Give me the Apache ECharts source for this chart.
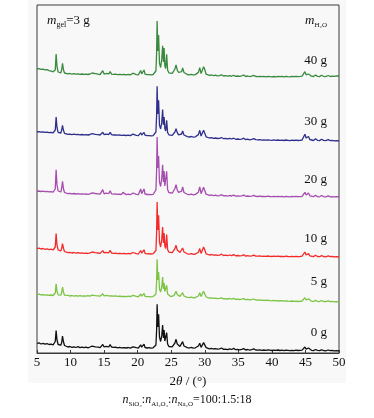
<!DOCTYPE html>
<html>
<head>
<meta charset="utf-8">
<script src="https://cdn.jsdelivr.net/npm/echarts@6/dist/echarts.min.js"></script>
<style>
  html, body { margin: 0; padding: 0; background: #fff; }
  #chart { width: 374px; height: 418px; }
</style>
</head>
<body>
<div id="chart"></div>
<script>
// 2theta sample positions (deg), shared by all patterns
var twoTheta = [
  5.0, 5.3, 5.6, 5.9, 6.2, 6.5, 6.8, 7.1, 7.4, 7.6,
  7.72, 7.85, 7.98, 8.15, 8.35, 8.55, 8.68, 8.8, 8.95, 9.1,
  9.3, 9.6, 9.9, 10.2, 10.5, 10.8, 11.1, 11.4, 11.7, 12.0,
  12.3, 12.6, 12.9, 13.2, 13.45, 13.7, 13.9, 14.1, 14.4, 14.6,
  14.8, 15.0, 15.3, 15.5, 15.7, 15.9, 16.1, 16.4, 16.7, 17.0,
  17.3, 17.6, 17.8, 18.0, 18.3, 18.6, 18.9, 19.1, 19.3, 19.5,
  19.8, 20.1, 20.3, 20.45, 20.6, 20.8, 20.95, 21.1, 21.4, 21.7,
  22.0, 22.3, 22.55, 22.72, 22.82, 22.9, 23.0, 23.12, 23.25, 23.42,
  23.58, 23.72, 23.84, 23.94, 24.05, 24.18, 24.32, 24.46, 24.65, 24.9,
  25.15, 25.4, 25.55, 25.72, 25.9, 26.1, 26.3, 26.55, 26.7, 26.9,
  27.1, 27.4, 27.7, 28.0, 28.3, 28.6, 28.85, 29.05, 29.25, 29.45,
  29.62, 29.82, 29.98, 30.2, 30.45, 30.7, 31.0, 31.3, 31.6, 31.9,
  32.2, 32.5, 32.8, 33.1, 33.4, 33.7, 34.0, 34.3, 34.6, 34.9,
  35.2, 35.5, 35.8, 36.1, 36.4, 36.7, 37.0, 37.3, 37.6, 37.9,
  38.2, 38.5, 38.8, 39.1, 39.4, 39.7, 40.0, 40.3, 40.6, 40.9,
  41.2, 41.5, 41.8, 42.1, 42.4, 42.7, 43.0, 43.3, 43.6, 43.9,
  44.2, 44.5, 44.75, 44.92, 45.1, 45.28, 45.45, 45.65, 45.9, 46.2,
  46.5, 46.8, 47.1, 47.4, 47.7, 48.0, 48.4, 48.7, 49.0, 49.3,
  49.6, 50.0
];

// intensities (a.u.), relative to its own high-angle baseline
var int0g = [
  7.5, 8.2, 7.0, 7.6, 6.8, 7.3, 6.5, 6.9, 6.2, 6.6,
  9.5, 20.4, 11.0, 6.5, 5.2, 5.8, 8.5, 15.0, 9.0, 5.5,
  4.6, 4.0, 4.5, 3.6, 4.2, 3.5, 4.3, 3.4, 3.9, 3.3,
  3.8, 3.2, 4.0, 4.9, 3.5, 4.1, 5.8, 3.9, 3.4, 4.2,
  6.5, 4.0, 4.6, 5.5, 4.2, 6.3, 4.0, 3.6, 3.9, 3.2,
  3.6, 3.1, 4.8, 3.3, 3.0, 3.5, 2.9, 3.4, 4.2, 3.0,
  3.3, 2.8, 3.6, 6.2, 3.8, 4.0, 6.8, 3.5, 3.0, 3.3,
  2.9, 3.2, 3.6, 6.0, 20.0, 46.7, 24.0, 36.7, 14.0, 9.5,
  15.0, 26.0, 13.0, 21.0, 10.0, 8.0, 18.4, 7.0, 4.5, 3.8,
  4.2, 5.5, 8.0, 11.7, 7.0, 5.0, 4.6, 6.2, 9.4, 5.0,
  3.9, 3.3, 3.0, 3.6, 2.8, 3.2, 4.0, 5.0, 7.7, 3.6,
  5.0, 8.4, 7.0, 3.4, 2.6, 2.2, 2.7, 2.0, 2.4, 1.8,
  2.1, 3.0, 1.6, 1.9, 1.4, 2.2, 1.5, 2.6, 1.3, 1.7,
  1.2, 1.6, 2.4, 1.0, 1.5, 0.9, 1.3, 2.1, 1.0, 0.8,
  1.2, 0.7, 1.0, 0.6, 1.1, 0.8, 0.5, 0.9, 0.6, 1.0,
  0.5, 0.8, 0.4, 0.9, 0.6, 0.3, 0.7, 0.4, 0.8, 0.5,
  0.6, 0.9, 1.3, 4.0, 1.8, 1.6, 3.0, 1.1, 0.7, 0.4,
  1.5, 0.6, 0.3, 1.2, 0.5, 0.2, 1.0, 0.3, 0.5, 0.1,
  0.3, 0.0
];
var int5g = [
  7.3, 7.8, 7.0, 7.4, 6.9, 7.2, 6.6, 7.0, 6.5, 6.9,
  9.0, 18.3, 10.5, 7.2, 6.4, 6.8, 9.5, 15.0, 9.8, 6.8,
  6.2, 6.6, 6.0, 6.5, 5.9, 6.3, 5.8, 6.4, 5.9, 6.1,
  5.8, 6.3, 5.9, 6.8, 6.0, 6.4, 7.8, 6.1, 5.8, 6.2,
  8.2, 6.0, 6.6, 7.5, 6.2, 8.0, 6.0, 5.8, 6.1, 5.6,
  5.9, 5.5, 7.0, 5.7, 5.4, 5.8, 5.3, 5.7, 6.6, 5.5,
  5.6, 5.2, 5.8, 8.0, 5.9, 6.1, 8.6, 5.7, 5.3, 5.4,
  5.1, 5.4, 5.7, 8.0, 20.0, 42.7, 22.0, 30.0, 13.0, 10.0,
  15.0, 25.0, 13.0, 19.0, 10.5, 9.0, 16.7, 8.0, 6.5, 5.4,
  5.8, 6.4, 8.2, 10.7, 7.5, 6.0, 5.6, 6.8, 9.3, 6.0,
  5.0, 4.6, 4.3, 4.8, 4.1, 4.5, 5.2, 6.0, 9.3, 5.5,
  6.5, 10.7, 8.8, 5.0, 4.2, 3.8, 4.1, 3.6, 3.9, 3.4,
  3.6, 4.2, 3.2, 3.4, 3.0, 3.5, 2.9, 3.6, 2.6, 2.9,
  2.5, 2.8, 3.4, 2.3, 2.6, 2.1, 2.4, 3.0, 2.0, 1.9,
  2.1, 1.7, 1.9, 1.5, 1.8, 1.4, 1.2, 1.6, 1.1, 1.4,
  1.0, 1.3, 0.9, 1.2, 0.8, 0.6, 1.0, 0.7, 0.9, 0.5,
  0.7, 1.0, 1.4, 4.3, 2.0, 1.8, 3.2, 1.2, 0.8, 0.5,
  1.6, 0.6, 0.4, 1.5, 0.5, 0.3, 1.1, 0.4, 0.6, 0.2,
  0.4, 0.0
];
var int10g = [
  8.4, 8.9, 8.0, 8.5, 7.7, 8.1, 7.4, 7.8, 7.0, 7.3,
  10.0, 23.4, 12.0, 7.0, 5.6, 6.0, 8.8, 13.4, 8.5, 5.5,
  4.8, 4.3, 4.7, 4.0, 4.5, 3.9, 4.4, 3.8, 4.1, 3.7,
  3.9, 3.5, 4.2, 5.0, 3.7, 4.3, 5.9, 4.0, 3.6, 4.4,
  6.4, 4.1, 4.6, 5.6, 4.2, 6.6, 4.0, 3.7, 3.9, 3.4,
  3.7, 3.3, 5.0, 3.5, 3.2, 3.6, 3.1, 3.5, 4.5, 3.2,
  3.4, 3.0, 3.7, 6.5, 3.9, 4.1, 7.2, 3.6, 3.2, 3.3,
  3.0, 3.3, 3.7, 6.5, 24.0, 55.0, 27.0, 41.7, 15.0, 10.0,
  17.0, 30.0, 14.0, 24.0, 11.0, 8.5, 22.4, 7.5, 4.8, 4.0,
  4.4, 5.6, 8.4, 11.7, 7.0, 5.0, 4.5, 6.0, 9.0, 5.0,
  3.8, 3.2, 2.9, 3.4, 2.7, 3.0, 3.8, 4.8, 8.4, 3.6,
  5.5, 10.0, 7.5, 3.2, 2.4, 2.0, 2.5, 1.8, 2.2, 1.6,
  1.9, 2.8, 1.5, 1.8, 1.3, 2.0, 1.4, 2.4, 1.2, 1.5,
  1.1, 1.4, 2.2, 0.9, 1.3, 0.8, 1.2, 1.9, 0.9, 0.8,
  1.1, 0.7, 0.9, 0.6, 1.0, 0.7, 0.5, 0.8, 0.6, 0.9,
  0.5, 0.7, 0.4, 0.8, 0.5, 0.3, 0.6, 0.4, 0.7, 0.4,
  0.5, 0.8, 1.4, 5.0, 2.0, 1.8, 3.4, 1.2, 0.7, 0.4,
  1.7, 0.5, 0.3, 1.4, 0.5, 0.2, 1.1, 0.3, 0.5, 0.1,
  0.3, 0.0
];
var int20g = [
  5.7, 6.0, 5.5, 5.8, 5.3, 5.6, 5.1, 5.4, 4.9, 5.2,
  8.0, 27.3, 12.0, 6.0, 4.4, 5.0, 9.0, 15.7, 8.0, 4.5,
  3.8, 3.4, 3.7, 3.1, 3.5, 3.0, 3.4, 2.9, 3.2, 2.8,
  3.0, 2.7, 3.2, 4.2, 2.9, 3.5, 5.5, 3.1, 2.8, 3.6,
  7.3, 3.2, 3.8, 5.4, 3.4, 6.3, 3.2, 2.9, 3.1, 2.6,
  2.8, 2.5, 4.6, 2.7, 2.4, 2.8, 2.3, 2.7, 4.0, 2.4,
  2.6, 2.3, 3.0, 8.0, 3.4, 3.6, 8.0, 3.0, 2.5, 2.6,
  2.3, 2.6, 3.0, 7.0, 26.0, 60.0, 29.0, 41.0, 15.0, 10.5,
  18.0, 32.3, 15.0, 26.0, 11.0, 9.0, 25.7, 7.5, 4.5, 3.5,
  3.8, 5.2, 8.5, 12.3, 7.0, 4.6, 4.0, 5.8, 10.0, 4.5,
  3.2, 2.7, 2.4, 2.9, 2.2, 2.6, 3.5, 4.8, 10.0, 3.3,
  5.0, 9.7, 8.0, 2.8, 2.0, 1.6, 2.0, 1.4, 1.8, 1.2,
  1.4, 2.3, 1.1, 1.3, 0.9, 1.5, 1.0, 1.9, 0.8, 1.1,
  0.8, 1.1, 1.9, 0.7, 1.0, 0.6, 0.9, 1.6, 0.6, 0.5,
  0.8, 0.5, 0.7, 0.4, 0.8, 0.5, 0.3, 0.6, 0.4, 0.7,
  0.3, 0.5, 0.2, 0.6, 0.4, 0.2, 0.5, 0.3, 0.5, 0.3,
  0.4, 0.7, 1.3, 4.7, 2.0, 2.0, 4.0, 1.2, 0.6, 0.3,
  1.8, 0.4, 0.2, 1.5, 0.4, 0.1, 1.2, 0.2, 0.4, 0.1,
  0.3, 0.0
];
var int30g = [
  9.0, 9.4, 8.8, 9.1, 8.6, 8.9, 8.4, 8.7, 8.2, 8.5,
  11.0, 24.0, 13.5, 8.6, 7.6, 8.0, 11.0, 15.7, 10.5, 7.6,
  7.0, 6.6, 6.9, 6.4, 6.8, 6.3, 6.7, 6.2, 6.5, 6.1,
  6.3, 6.0, 6.5, 7.4, 6.2, 6.7, 8.3, 6.3, 6.0, 6.6,
  8.8, 6.4, 6.9, 8.0, 6.5, 8.6, 6.3, 6.0, 6.2, 5.8,
  6.0, 5.7, 7.2, 5.8, 5.5, 5.9, 5.4, 5.8, 6.8, 5.5,
  5.7, 5.3, 5.9, 8.2, 6.0, 6.3, 8.6, 5.8, 5.3, 5.4,
  5.1, 5.3, 5.8, 9.0, 25.0, 54.7, 27.0, 40.7, 16.0, 12.0,
  18.0, 31.4, 16.0, 24.0, 12.5, 10.0, 20.7, 8.5, 6.2, 5.2,
  5.6, 6.8, 9.0, 12.4, 8.4, 6.2, 5.6, 7.0, 10.0, 6.0,
  4.9, 4.4, 4.0, 4.5, 3.8, 4.2, 5.0, 6.4, 10.7, 5.0,
  6.5, 10.7, 9.0, 4.2, 3.4, 3.0, 3.3, 2.7, 3.0, 2.5,
  2.7, 3.5, 2.3, 2.5, 2.1, 2.7, 2.0, 2.8, 1.7, 2.0,
  1.6, 1.9, 2.8, 1.4, 1.8, 1.2, 1.6, 2.3, 1.3, 1.1,
  1.3, 0.9, 1.2, 0.8, 1.2, 0.9, 0.7, 1.1, 0.7, 1.0,
  0.6, 0.9, 0.5, 1.0, 0.7, 0.4, 0.8, 0.5, 0.9, 0.5,
  0.7, 1.0, 1.8, 6.7, 3.0, 2.4, 4.5, 1.5, 0.9, 0.5,
  2.2, 0.7, 0.4, 1.8, 0.6, 0.3, 1.4, 0.4, 0.6, 0.2,
  0.4, 0.0
];
var int40g = [
  7.0, 7.4, 6.6, 6.9, 6.1, 6.3, 5.4, 5.0, 4.2, 4.0,
  6.0, 22.0, 9.5, 4.0, 2.8, 3.2, 6.5, 12.7, 6.0, 3.0,
  2.6, 2.2, 2.5, 1.9, 2.3, 1.8, 2.2, 1.7, 2.0, 1.6,
  1.9, 1.5, 2.0, 3.0, 1.7, 2.4, 4.2, 1.8, 1.5, 2.4,
  5.3, 1.9, 2.5, 4.0, 2.1, 4.5, 1.9, 1.6, 1.8, 1.4,
  1.6, 1.3, 3.2, 1.5, 1.2, 1.6, 1.1, 1.5, 2.8, 1.2,
  1.4, 1.1, 1.8, 5.5, 2.2, 2.4, 6.0, 1.8, 1.3, 1.4,
  1.2, 1.5, 1.9, 5.0, 22.0, 55.0, 25.0, 41.0, 13.0, 8.5,
  16.0, 30.3, 14.0, 28.0, 10.0, 7.5, 21.7, 6.0, 3.2, 2.4,
  2.6, 4.0, 7.0, 11.0, 5.8, 3.5, 2.8, 4.4, 8.0, 3.5,
  2.0, 1.5, 1.2, 1.7, 1.0, 1.4, 2.2, 3.6, 8.3, 2.4,
  4.0, 9.3, 7.0, 1.8, 1.0, 0.6, 1.0, 0.4, 0.8, 0.2,
  0.4, 1.2, 0.0, 0.3, -0.2, 0.4, -0.3, 0.8, -0.4, 0.0,
  -0.3, 0.1, 1.0, -0.5, 0.0, -0.6, -0.2, 0.6, -0.5, -0.6,
  -0.3, -0.7, -0.4, -0.8, -0.3, -0.6, -0.9, -0.5, -0.8, -0.4,
  -0.7, -0.4, -0.8, -0.3, -0.6, -0.8, -0.4, -0.7, -0.3, -0.6,
  -0.4, -0.1, 0.6, 4.3, 1.2, 0.8, 2.0, 0.3, -0.2, -0.5,
  1.0, -0.4, -0.6, 0.8, -0.3, -0.6, 0.5, -0.5, -0.2, -0.4,
  0.2, 0.0
];

var seriesNames = ['0 g', '5 g', '10 g', '20 g', '30 g', '40 g'];
var intensities = [int0g, int5g, int10g, int20g, int30g, int40g];
// vertical stacking offset of each pattern (a.u.)
var offsets = [2, 51, 96, 156, 212, 277];
var xTicks = [5, 10, 15, 20, 25, 30, 35, 40, 45, 50];

var colors = ['#111111', '#7cc444', '#f42a2a', '#a64db0', '#2f2f8c', '#3a8a3e'];
var serif = '"Liberation Serif", "Times New Roman", serif';

var chart = echarts.init(document.getElementById('chart'), null, { renderer: 'canvas' });

var series = intensities.map(function(vals, i) {
  return {
    name: seriesNames[i],
    type: 'line',
    showSymbol: false,
    animation: false,
    smooth: false,
    lineStyle: { color: colors[i], width: 1.3 },
    data: twoTheta.map(function(x, j) { return [x, offsets[i] + vals[j]]; })
  };
});

// label of each pattern at the right end
var labelTops = [334, 283, 240, 181, 123, 62];
var graphics = [{
  type: 'rect', z: -10, silent: true,
  shape: { x: 28, y: 0, width: 318, height: 383 },
  style: { fill: '#f8f8f8' }
}];
seriesNames.forEach(function(n, i) {
  graphics.push({
    type: 'text', right: 47, top: labelTops[i] - 8,
    style: { text: n, font: '13px ' + serif, fill: '#111' }
  });
});
graphics.push({
  type: 'text', left: 47, top: 14,
  style: {
    text: '{i|m}{s|gel}{t|=3 g}',
    rich: {
      i: { fontFamily: serif, fontStyle: 'italic', fontSize: 13, lineHeight: 16, verticalAlign: 'middle', fill: '#111' },
      s: { fontFamily: serif, fontSize: 8, lineHeight: 16, verticalAlign: 'bottom', fill: '#111' },
      t: { fontFamily: serif, fontSize: 13, lineHeight: 16, verticalAlign: 'middle', fill: '#111' }
    }
  }
});
graphics.push({
  type: 'text', left: 305, top: 14,
  style: {
    text: '{i|m}{s|H₂O}',
    rich: {
      i: { fontFamily: serif, fontStyle: 'italic', fontSize: 13, lineHeight: 16, verticalAlign: 'middle', fill: '#111' },
      s: { fontFamily: serif, fontSize: 7, lineHeight: 16, verticalAlign: 'bottom', fill: '#111' }
    }
  }
});
graphics.push({
  type: 'text', left: 'center', top: 394,
  style: {
    text: '{i|n}{s|SiO₂}{t|:}{i|n}{s|Al₂O₃}{t|:}{i|n}{s|Na₂O}{t|=100:1.5:18}',
    rich: {
      i: { fontFamily: serif, fontStyle: 'italic', fontSize: 12, lineHeight: 16, verticalAlign: 'middle', fill: '#111' },
      s: { fontFamily: serif, fontSize: 7, lineHeight: 16, verticalAlign: 'bottom', fill: '#111' },
      t: { fontFamily: serif, fontSize: 12, lineHeight: 16, verticalAlign: 'middle', fill: '#111' }
    }
  }
});

chart.setOption({
  animation: false,
  backgroundColor: '#ffffff',
  grid: { left: 37, right: 35, top: 5, bottom: 65, show: true, borderColor: '#3a3a3a', borderWidth: 1 },
  xAxis: {
    type: 'value',
    min: 5, max: 50, interval: 5,
    name: '{a|2}{b|θ}{a| / (°)}',
    nameLocation: 'middle',
    nameGap: 22,
    nameTextStyle: {
      rich: {
        a: { fontFamily: serif, fontSize: 13, color: '#111' },
        b: { fontFamily: serif, fontSize: 13, fontStyle: 'italic', color: '#111' }
      }
    },
    axisLine: { show: true, lineStyle: { color: '#3a3a3a', width: 1 } },
    axisTick: { show: true, inside: true, length: 3, lineStyle: { color: '#3a3a3a' } },
    axisLabel: {
      color: '#111', fontFamily: serif, fontSize: 13, margin: 3,
      formatter: function(v) { return xTicks.indexOf(v) >= 0 ? String(v) : ''; }
    },
    splitLine: { show: false }
  },
  yAxis: {
    type: 'value', min: 0, max: 348,
    show: false, splitLine: { show: false }
  },
  series: series,
  graphic: graphics
});
</script>
</body>
</html>
